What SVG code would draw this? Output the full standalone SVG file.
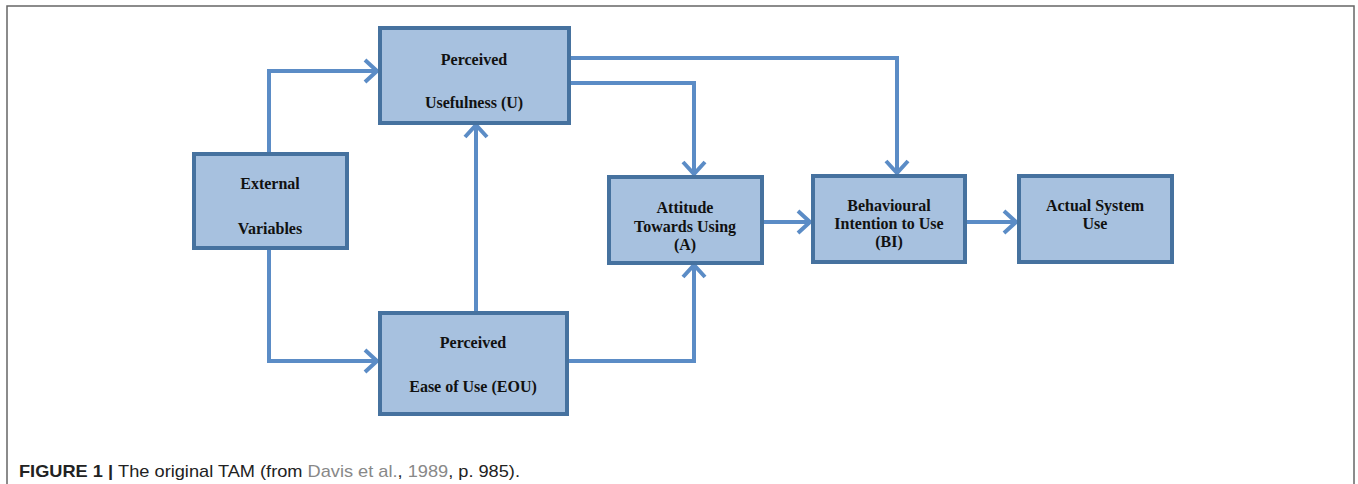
<svg xmlns="http://www.w3.org/2000/svg" width="1358" height="484" viewBox="0 0 1358 484">
<style>
.box{fill:#a7c1df;stroke:#46729f;stroke-width:4}
.lbl{font-family:"Liberation Serif","Times New Roman",serif;font-weight:bold;font-size:16px;fill:#111;text-anchor:middle}
.con{fill:none;stroke:#5b8cc6;stroke-width:4;stroke-linejoin:miter}
.cap{font-family:"Liberation Sans",Arial,sans-serif;font-size:17px;fill:#222}
</style>
<defs>
<marker id="ah" markerUnits="userSpaceOnUse" markerWidth="26" markerHeight="26" refX="15" refY="13" orient="auto">
<path d="M3,2 L15,13 L3,24" fill="none" stroke="#5b8cc6" stroke-width="4"/>
</marker>
</defs>
<rect x="7" y="6" width="1347" height="490" fill="#fff" stroke="#666" stroke-width="1.5"/>
<g id="connectors">
<polyline class="con" points="269,153 269,71 377,71" marker-end="url(#ah)"/>
<polyline class="con" points="269,248 269,361 377,361" marker-end="url(#ah)"/>
<polyline class="con" points="476,312 476,125" marker-end="url(#ah)"/>
<polyline class="con" points="569,58 897,58 897,173" marker-end="url(#ah)"/>
<polyline class="con" points="569,83 694,83 694,174" marker-end="url(#ah)"/>
<polyline class="con" points="567,361 694,361 694,265" marker-end="url(#ah)"/>
<polyline class="con" points="763,222 810,222" marker-end="url(#ah)"/>
<polyline class="con" points="966,222 1016,222" marker-end="url(#ah)"/>
</g>
<g id="pu">
<rect class="box" x="380" y="28" width="189" height="95"/>
<text class="lbl" x="474" y="65">Perceived</text>
<text class="lbl" x="474" y="108">Usefulness (U)</text>
</g>
<g id="ev">
<rect class="box" x="194" y="154" width="153" height="94"/>
<text class="lbl" x="270" y="189">External</text>
<text class="lbl" x="270" y="234">Variables</text>
</g>
<g id="eou">
<rect class="box" x="380" y="313" width="187" height="101"/>
<text class="lbl" x="473" y="348">Perceived</text>
<text class="lbl" x="473" y="392">Ease of Use (EOU)</text>
</g>
<g id="atu">
<rect class="box" x="609" y="177" width="153" height="86"/>
<text class="lbl" x="685" y="213">Attitude</text>
<text class="lbl" x="685" y="232">Towards Using</text>
<text class="lbl" x="685" y="250">(A)</text>
</g>
<g id="bi">
<rect class="box" x="813" y="176" width="152" height="86"/>
<text class="lbl" x="889" y="211">Behavioural</text>
<text class="lbl" x="889" y="229">Intention to Use</text>
<text class="lbl" x="889" y="247">(BI)</text>
</g>
<g id="asu">
<rect class="box" x="1019" y="176" width="153" height="86"/>
<text class="lbl" x="1095" y="211">Actual System</text>
<text class="lbl" x="1095" y="229">Use</text>
</g>
<text class="cap" x="19" y="477" textLength="501" lengthAdjust="spacingAndGlyphs"><tspan font-weight="bold">FIGURE 1 | </tspan>The original TAM (from <tspan fill="#888">Davis et al.</tspan>, <tspan fill="#888">1989</tspan>, p. 985).</text>
</svg>
